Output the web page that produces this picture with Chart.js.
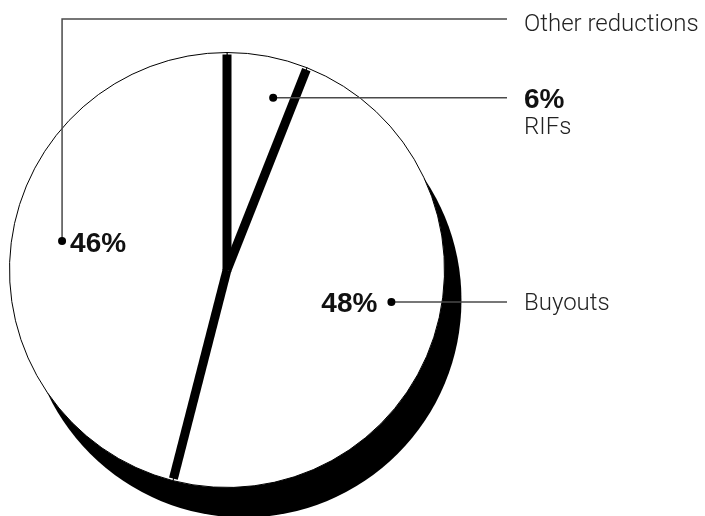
<!DOCTYPE html>
<html lang="en">
  <head>
    <meta charset="UTF-8" />
    <title>Staff reductions</title>
    <script src="https://cdn.jsdelivr.net/npm/chart.js"></script>
    <style>
      html, body { margin: 0; padding: 0; background: #fff; }
    </style>
  </head>
  <body>
    <canvas id="chart" width="705" height="516"></canvas>
    <script>
      // data
      const categories = ["RIFs", "Buyouts", "Other reductions"];
      const shares = [6, 48, 46];
      const pctLabels = ["6%", "48%", "46%"];

      // where each label dot sits inside its slice: angle (deg clockwise from top) and fraction of radius
      const dotSpots = [
        { deg: 15, r: 0.82 },
        { deg: 101, r: 0.77 },
        { deg: 280, r: 0.77 },
      ];

      const textX = 524;
      const lineEndX = 507;
      const regFont = '300 24px "Roboto", "Liberation Sans", sans-serif';
      const boldFont = 'bold 28px "Liberation Sans", Arial, sans-serif';

      const piePlugin = {
        id: "piePlugin",
        beforeDatasetsDraw(chart) {
          const arcs = chart.getDatasetMeta(0).data;
          const a = arcs[0];
          const R = a.outerRadius;
          const ctx = chart.ctx;
          // black shadow disc offset down/right
          ctx.save();
          ctx.fillStyle = "#000";
          ctx.beginPath();
          ctx.arc(a.x + R * 0.078, a.y + R * 0.138, R, 0, Math.PI * 2);
          ctx.fill();
          ctx.restore();
        },
        afterDatasetsDraw(chart) {
          const arcs = chart.getDatasetMeta(0).data;
          const ctx = chart.ctx;
          const cx = arcs[0].x, cy = arcs[0].y, R = arcs[0].outerRadius;

          // thick black bands along the slice boundaries
          ctx.save();
          ctx.strokeStyle = "#000";
          ctx.lineWidth = 9;
          ctx.lineCap = "butt";
          arcs.forEach((arc) => {
            const ang = arc.startAngle;
            ctx.beginPath();
            ctx.moveTo(cx, cy);
            ctx.lineTo(cx + Math.cos(ang) * (R - 2), cy + Math.sin(ang) * (R - 2));
            ctx.stroke();
          });
          ctx.restore();

          const dot = (i) => {
            const t = (dotSpots[i].deg - 90) * Math.PI / 180;
            return { x: cx + Math.cos(t) * R * dotSpots[i].r, y: cy + Math.sin(t) * R * dotSpots[i].r };
          };
          const drawDot = (p) => {
            ctx.beginPath();
            ctx.fillStyle = "#000";
            ctx.arc(p.x, p.y, 4, 0, Math.PI * 2);
            ctx.fill();
          };

          ctx.save();
          ctx.strokeStyle = "#4a4a4a";
          ctx.lineWidth = 1.5;

          // RIFs
          const p0 = dot(0);
          ctx.beginPath();
          ctx.moveTo(p0.x, p0.y);
          ctx.lineTo(lineEndX, p0.y);
          ctx.stroke();
          drawDot(p0);
          ctx.fillStyle = "#111";
          ctx.font = boldFont;
          ctx.textAlign = "left";
          ctx.textBaseline = "alphabetic";
          ctx.fillText(pctLabels[0], textX, p0.y + 10);
          ctx.fillStyle = "#222";
          ctx.font = regFont;
          ctx.fillText(categories[0], textX, p0.y + 36);

          // Buyouts
          const p1 = dot(1);
          ctx.beginPath();
          ctx.moveTo(p1.x, p1.y);
          ctx.lineTo(lineEndX, p1.y);
          ctx.stroke();
          drawDot(p1);
          ctx.fillStyle = "#111";
          ctx.font = boldFont;
          ctx.textAlign = "right";
          ctx.fillText(pctLabels[1], p1.x - 14, p1.y + 10);
          ctx.fillStyle = "#222";
          ctx.font = regFont;
          ctx.textAlign = "left";
          ctx.fillText(categories[1], textX, p1.y + 8);

          // Other reductions
          const p2 = dot(2);
          const topY = 19;
          ctx.beginPath();
          ctx.moveTo(p2.x, p2.y);
          ctx.lineTo(p2.x, topY);
          ctx.lineTo(lineEndX, topY);
          ctx.stroke();
          drawDot(p2);
          ctx.fillStyle = "#111";
          ctx.font = boldFont;
          ctx.textAlign = "left";
          ctx.fillText(pctLabels[2], p2.x + 8, p2.y + 11);
          ctx.fillStyle = "#222";
          ctx.font = regFont;
          ctx.fillText(categories[2], textX, topY + 12);
          ctx.restore();
        },
      };

      new Chart(document.getElementById("chart"), {
        type: "pie",
        data: {
          labels: categories,
          datasets: [
            {
              data: shares,
              backgroundColor: "#fff",
              borderColor: "#000",
              borderWidth: 1,
            },
          ],
        },
        options: {
          responsive: false,
          animation: false,
          layout: { padding: { left: 9, top: 52, right: 260, bottom: 28 } },
          plugins: {
            legend: { display: false },
            tooltip: { enabled: false },
          },
        },
        plugins: [piePlugin],
      });
    </script>
  </body>
</html>
